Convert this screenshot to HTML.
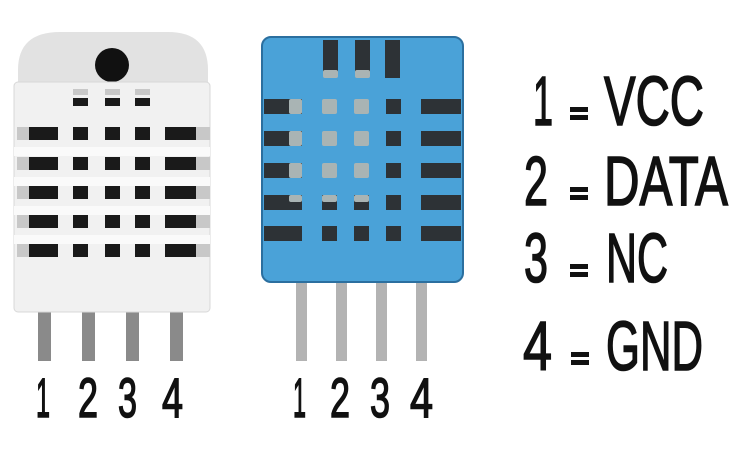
<!DOCTYPE html>
<html><head><meta charset="utf-8"><style>
html,body{margin:0;padding:0;background:#fff;}
svg{display:block;}
text{font-family:"Liberation Sans Narrow","Liberation Sans",sans-serif;fill:#111;stroke:#111;stroke-width:1.6;}
</style></head><body>
<svg width="740" height="458" viewBox="0 0 740 458" xmlns="http://www.w3.org/2000/svg">
<g fill="#8a8a8a">
<rect x="38" y="308" width="13" height="53"/><rect x="82" y="308" width="13" height="53"/>
<rect x="126" y="308" width="13" height="53"/><rect x="170" y="308" width="13" height="53"/>
</g>
<path d="M18 85 L18 70 Q18 32 60 32 L168 32 Q208 32 208 70 L208 85 Z" fill="#e2e2e2"/>
<circle cx="112" cy="65" r="17" fill="#111"/>
<rect x="14" y="82" width="196" height="230" rx="4" fill="#f1f1f1" stroke="#d8d8d8" stroke-width="1"/>
<g fill="#fafafa">
<rect x="14" y="147" width="196" height="9"/><rect x="14" y="177" width="196" height="9"/>
<rect x="14" y="206" width="196" height="9"/><rect x="14" y="235" width="196" height="9"/>
</g>
<g fill="#c8c8c8">
<rect x="17" y="127" width="12" height="13"/><rect x="17" y="157" width="12" height="13"/><rect x="17" y="186" width="12" height="13"/><rect x="17" y="215" width="12" height="13"/><rect x="17" y="244" width="12" height="13"/>
<rect x="196" y="127" width="14" height="13"/><rect x="196" y="157" width="14" height="13"/><rect x="196" y="186" width="14" height="13"/><rect x="196" y="215" width="14" height="13"/><rect x="196" y="244" width="14" height="13"/>
<rect x="73" y="89" width="15" height="6"/><rect x="105" y="89" width="15" height="6"/><rect x="135" y="89" width="15" height="6"/>
</g>
<g fill="#1a1a1a">
<rect x="73" y="98" width="15" height="8"/><rect x="105" y="98" width="15" height="8"/><rect x="135" y="98" width="15" height="8"/>
<g id="lrow">
<rect x="29" y="127" width="29" height="13"/><rect x="73" y="127" width="15" height="13"/><rect x="105" y="127" width="15" height="13"/><rect x="135" y="127" width="15" height="13"/><rect x="165" y="127" width="31" height="13"/>
</g>
<use href="#lrow" y="30"/><use href="#lrow" y="59"/><use href="#lrow" y="88"/><use href="#lrow" y="117"/>
</g>
<g fill="#b3b3b3">
<rect x="296" y="275" width="11" height="86"/><rect x="336" y="275" width="11" height="86"/>
<rect x="376" y="275" width="11" height="86"/><rect x="416" y="275" width="11" height="86"/>
</g>
<rect x="262" y="37" width="201" height="245" rx="9" fill="#4aa2d8" stroke="#2b6f9f" stroke-width="2"/>
<g fill="#2d3236">
<rect x="323" y="40" width="15" height="33"/><rect x="355" y="40" width="15" height="33"/><rect x="385" y="40" width="15" height="38"/>
<g id="brow">
<rect x="264" y="99" width="38" height="15"/><rect x="386" y="99" width="15" height="15"/><rect x="421" y="99" width="40" height="15"/>
</g>
<use href="#brow" y="32"/><use href="#brow" y="64"/><use href="#brow" y="96"/><use href="#brow" y="127"/>
<rect x="322" y="195" width="15" height="15"/><rect x="354" y="195" width="15" height="15"/>
<rect x="322" y="226" width="15" height="15"/><rect x="354" y="226" width="15" height="15"/>
</g>
<g fill="#a9b4b4">
<rect x="323" y="70" width="15" height="8" rx="2"/><rect x="355" y="70" width="15" height="8" rx="2"/>
<g id="grow"><rect x="289" y="99" width="13" height="15" rx="2"/><rect x="322" y="99" width="15" height="15" rx="2"/><rect x="354" y="99" width="15" height="15" rx="2"/></g>
<use href="#grow" y="32"/><use href="#grow" y="64"/>
<rect x="289" y="195" width="13" height="7" rx="2"/><rect x="322" y="195" width="15" height="7" rx="2"/><rect x="354" y="195" width="15" height="7" rx="2"/>
</g>
<g font-size="56">
<text x="36" y="417" textLength="14" lengthAdjust="spacingAndGlyphs">1</text>
<text x="78" y="417" textLength="20" lengthAdjust="spacingAndGlyphs">2</text>
<text x="118" y="417" textLength="19" lengthAdjust="spacingAndGlyphs">3</text>
<text x="162" y="417" textLength="21" lengthAdjust="spacingAndGlyphs">4</text>
<text x="293" y="417" textLength="13" lengthAdjust="spacingAndGlyphs">1</text>
<text x="330" y="417" textLength="20" lengthAdjust="spacingAndGlyphs">2</text>
<text x="370" y="417" textLength="20" lengthAdjust="spacingAndGlyphs">3</text>
<text x="410" y="417" textLength="23" lengthAdjust="spacingAndGlyphs">4</text>
</g>
<g font-size="70" style="stroke-width:2.6">
<text x="533" y="125" textLength="20" lengthAdjust="spacingAndGlyphs">1</text>
<text x="604" y="125" textLength="100" lengthAdjust="spacingAndGlyphs">VCC</text>
<text x="524" y="205" textLength="24" lengthAdjust="spacingAndGlyphs">2</text>
<text x="604" y="205" textLength="124" lengthAdjust="spacingAndGlyphs">DATA</text>
<text x="524" y="282" textLength="24" lengthAdjust="spacingAndGlyphs">3</text>
<text x="606" y="282" textLength="62" lengthAdjust="spacingAndGlyphs">NC</text>
<text x="523" y="370" textLength="29" lengthAdjust="spacingAndGlyphs">4</text>
<text x="606" y="370" textLength="97" lengthAdjust="spacingAndGlyphs">GND</text>
</g>
<g fill="#111">
<rect x="570" y="107" width="18" height="5"/><rect x="570" y="115" width="18" height="5"/>
<rect x="570" y="187" width="18" height="5"/><rect x="570" y="195" width="18" height="5"/>
<rect x="570" y="264" width="18" height="5"/><rect x="570" y="272" width="18" height="5"/>
<rect x="571" y="352" width="18" height="5"/><rect x="571" y="360" width="18" height="5"/>
</g>
</svg>
</body></html>
